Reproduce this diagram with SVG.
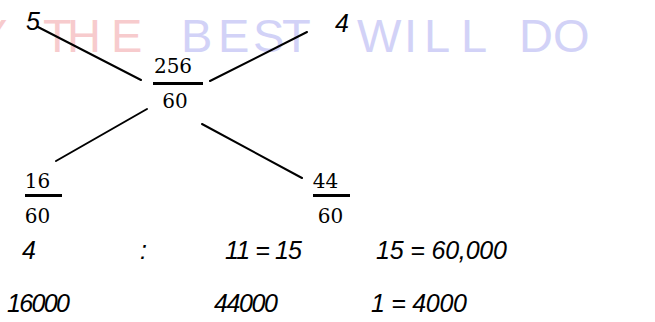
<svg xmlns="http://www.w3.org/2000/svg" width="655" height="322" viewBox="0 0 655 322">
<style>
.wm{font-family:"Liberation Sans","DejaVu Sans",sans-serif;font-size:47px;font-weight:normal}
.pink{fill:#f7cbcd}
.blue{fill:#d2d2f7}
.frac{font-family:"DejaVu Serif","Liberation Serif",serif;font-size:20px;fill:#000}
.hand{font-family:"Liberation Sans","DejaVu Sans",sans-serif;font-style:italic;font-size:25px;fill:#000}
.bar{fill:#000}
.conn line{stroke:#000;stroke-width:2;stroke-linecap:round}
</style>
<rect width="655" height="322" fill="#fff"/>
<g id="watermark">
<text class="wm pink" x="-24 43 67 111" y="52">YTHE</text>
<text class="wm blue" x="181 218 253 282 357 404 424 461 519 553" y="52">BESTWILLDO</text>
</g>
<g class="conn" id="connectors">
<line x1="38" y1="27" x2="141" y2="80"/>
<line x1="210" y1="81" x2="307" y2="32"/>
<line x1="147" y1="109" x2="56" y2="161"/>
<line x1="202" y1="124" x2="302" y2="178"/>
</g>
<g id="n5"><text class="hand" x="26" y="30" font-size="28">5</text></g>
<g id="n4"><text class="hand" x="335" y="32" font-size="28">4</text></g>
<g id="f256">
<text class="frac" x="173" y="73" text-anchor="middle">256</text>
<rect class="bar" x="153" y="82" width="50" height="3"/>
<text class="frac" x="175" y="108" text-anchor="middle">60</text>
</g>
<g id="f16">
<text class="frac" x="37.5" y="188" text-anchor="middle">16</text>
<rect class="bar" x="25" y="194" width="37" height="3"/>
<text class="frac" x="37.5" y="223" text-anchor="middle">60</text>
</g>
<g id="f44">
<text class="frac" x="325.5" y="188" text-anchor="middle">44</text>
<rect class="bar" x="313" y="194" width="37" height="3"/>
<text class="frac" x="330.5" y="223" text-anchor="middle">60</text>
</g>
<g id="row1">
<text class="hand" x="22" y="259">4</text>
<text class="hand" x="140" y="259">:</text>
<text class="hand" x="225" y="259" textLength="77" lengthAdjust="spacing">11 = 15</text>
<text class="hand" x="376" y="259" textLength="131" lengthAdjust="spacing">15 = 60,000</text>
</g>
<g id="row2">
<text class="hand" x="7" y="312" textLength="63" lengthAdjust="spacing">16000</text>
<text class="hand" x="214" y="312" textLength="64" lengthAdjust="spacing">44000</text>
<text class="hand" x="371" y="312" textLength="96" lengthAdjust="spacing">1 = 4000</text>
</g>
</svg>
